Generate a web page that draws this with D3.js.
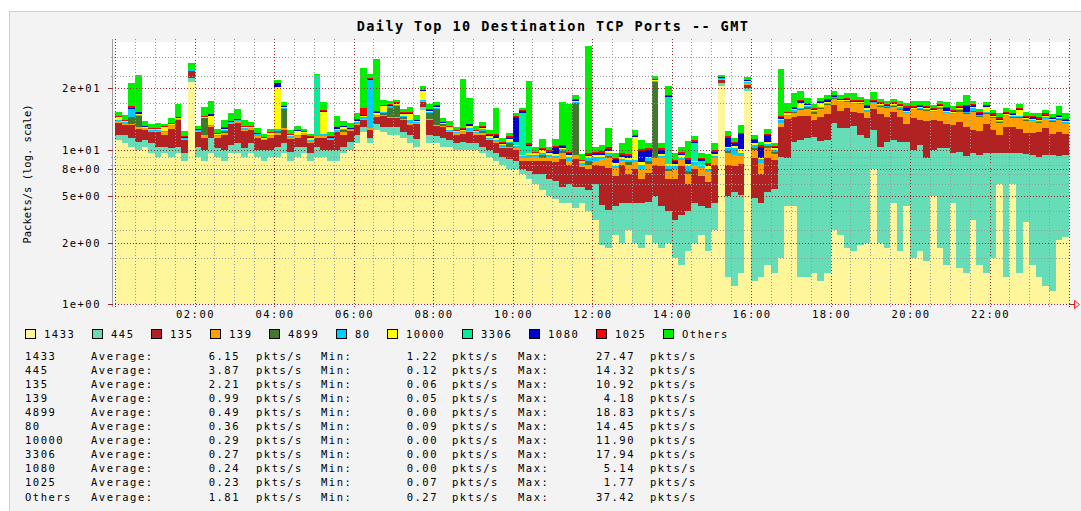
<!DOCTYPE html>
<html>
<head>
<meta charset="utf-8">
<title>Daily Top 10 Destination TCP Ports</title>
<script src="https://cdn.jsdelivr.net/npm/d3@7"></script>
<style>
  body { margin: 0; background: #fff; }
  text { font-family: "DejaVu Sans Mono", monospace; fill: #000; }
</style>
</head>
<body>
<script>
// ports in stacking order, bottom first
const ports = ["1433", "445", "135", "139", "4899", "80", "10000", "3306", "1080", "1025", "Others"];
const portColors = ["#fff59b", "#66ddb6", "#b22222", "#ffa000", "#3f7a2c", "#00ccff", "#ffff00", "#00f099", "#0000cc", "#ff0000", "#00ee00"];

// 10-minute bins, one line per hour (00:00 .. 23:50)
const s1433 = [
  11.5, 11, 10.5, 10, 10.5, 9.5,
  9, 9.5, 9, 9.5, 8.5, 27.5,
  9, 8.5, 9.5, 9, 8.5, 9.5,
  9.5, 9, 9.5, 9, 8.5, 9,
  9, 9.5, 8.5, 9, 9.5, 8.5,
  9, 9, 8.5, 8.5, 9.5, 10,
  11, 13, 11, 13.5, 13, 12.5,
  12.5, 12, 11, 10.5, 18, 11,
  11, 10.5, 10.5, 10, 10, 10,
  10, 9.5, 9, 8.5, 8, 7.5,
  7.5, 7, 6.5, 6, 5.5, 5,
  4.8, 4.5, 4.5, 4.2, 4.5, 4,
  3.5, 2.4, 2.3, 2.8, 2.5, 3,
  2.5, 2.3, 2.8, 2.5, 2.3, 2.5,
  2, 1.8, 2.2, 2.5, 2.8, 2.2,
  3, 26, 1.5, 1.3, 1.6, 24,
  1.4, 1.5, 1.8, 1.6, 2, 4.3,
  4.3, 1.5, 1.5, 1.6, 1.4, 1.6,
  3, 2.8, 2.3, 2.2, 2.4, 2.5,
  7.5, 2.5, 2.3, 4.5, 2.2, 4.3,
  2, 2.2, 1.9, 5, 2.3, 1.8,
  4.5, 1.7, 1.6, 3.5, 1.8, 1.6,
  2, 6, 1.5, 6, 1.6, 3.4,
  1.8, 1.5, 1.3, 1.22, 2.6, 2.7
];
const s445 = [
  1, 1.5, 1.5, 1.2, 1, 1.5,
  1.5, 1, 1.2, 1, 1, 1.8,
  1.5, 1.5, 2.5, 1.2, 1.5, 1.2,
  1.5, 1.2, 1.5, 1, 1.5, 1,
  1.5, 1.5, 1.2, 1.5, 1, 1,
  1.5, 1, 1.5, 1.5, 1, 1.2,
  1.5, 1, 1, 1.2, 1, 1.5,
  1.5, 1, 1.5, 1.2, 1, 1.5,
  1.2, 1.5, 1, 1, 1.2, 1,
  1, 1, 1, 1, 1, 1.2,
  1, 0.5, 0.8, 1, 1.5, 1.5,
  1.5, 1.2, 1.5, 1.5, 1.2, 1.5,
  2.5, 2, 1.8, 1.5, 2, 1.5,
  2, 2.2, 1.8, 2.5, 2, 1.5,
  1.5, 2, 1.8, 2, 1.5, 2,
  1.5, 1, 3.5, 4, 3.5, 1,
  3.5, 3, 3.5, 4, 7, 4.5,
  7, 10, 10.5, 10.5, 10, 10,
  12, 11, 11.5, 12, 10, 9.5,
  6, 8, 9, 7, 9, 7,
  8, 8.5, 7, 5, 8, 8.5,
  5, 8, 7.5, 6, 7.5, 8,
  7.5, 3.5, 8, 3.5, 8, 6,
  7.5, 7.5, 8, 8, 6.5, 6.5
];
const s135 = [
  2.5, 2, 2.5, 2.5, 2, 2,
  2.5, 2, 3.5, 5, 2, 3,
  2.5, 2, 2, 1.8, 2.5, 4,
  4, 3, 2.5, 2, 1.5, 2,
  2, 2.5, 2, 1.5, 2, 1.5,
  1.5, 2, 1.5, 3, 2, 2,
  2, 1.5, 1.5, 1.5, 2.5, 2,
  2, 2.5, 2, 3, 1.5, 3,
  2, 2, 1.5, 1.5, 1.5, 2,
  1.5, 2, 1.5, 1.5, 1.2, 1.5,
  1.5, 1, 1.2, 1.5, 1.5, 2,
  2, 3, 2, 3, 2, 2,
  2, 3.5, 3.5, 2.5, 3.5, 2.5,
  3, 2, 2.5, 3, 3.5, 2.5,
  3, 4, 2, 3, 2.5, 2,
  3.5, 1.5, 3, 2.5, 3, 1.5,
  4, 2.5, 3.5, 3, 5, 7,
  5, 5, 4.5, 3.5, 5, 5.5,
  4.5, 4, 5, 3.5, 5, 4,
  5, 6.5, 5, 6, 5, 3.5,
  6, 5, 6.5, 5.5, 5, 4.5,
  5, 5.5, 5, 4, 4, 5,
  4, 3, 4.5, 4.5, 4, 3.5,
  3.5, 4, 4.5, 3.5, 4, 3.5
];
const s139 = [
  0.4, 0.3, 0.3, 0.3, 0.3, 0.2,
  0.3, 0.5, 0.5, 0.3, 0.3, 0.3,
  0.3, 0.5, 0.3, 0.3, 0.4, 0.3,
  0.3, 0.3, 0.3, 0.3, 0.2, 0.3,
  0.3, 0.3, 0.3, 0.3, 0.3, 0.3,
  0.3, 0.3, 0.3, 0.3, 0.5, 0.3,
  0.3, 0.3, 0.3, 0.3, 0.3, 0.3,
  0.3, 0.3, 0.5, 0.3, 0.3, 0.3,
  0.3, 0.3, 0.3, 0.3, 0.3, 0.3,
  0.3, 0.3, 0.3, 0.3, 0.3, 0.3,
  0.3, 0.3, 0.3, 0.5, 0.3, 0.5,
  0.5, 0.8, 0.5, 0.5, 0.3, 0.5,
  0.5, 0.8, 1.2, 0.8, 0.5, 1,
  0.8, 1, 1, 0.8, 1, 0.8,
  1, 0.8, 1, 0.5, 0.8, 1,
  0.8, 0.3, 1.5, 1.5, 1, 0.5,
  1, 1.2, 1.5, 0.8, 1, 0.8,
  1, 1.5, 2, 1.5, 2, 2.5,
  2, 2.5, 1.5, 2, 2.5, 1.5,
  1.5, 2, 2.5, 1.5, 2, 2.5,
  2, 2.5, 2.5, 2, 3, 2.5,
  2.5, 2.5, 3, 4.2, 3, 2.5,
  2.5, 2.5, 2.5, 2, 2.5, 2.5,
  2.5, 2, 2, 2.5, 2.5, 2
];
const s4899 = [
  0, 0, 1.5, 2.5, 0, 0,
  0, 0, 0, 0, 0, 0,
  0, 3.5, 0, 0, 0.3, 0,
  0, 0, 0, 0, 0, 0,
  0.5, 4.5, 0, 0, 0, 0,
  0, 0, 0, 0, 0.5, 0,
  0, 0, 0, 0, 0.5, 2.5,
  3, 0.5, 0, 0, 0, 1.5,
  4, 0.3, 0, 0, 0, 0,
  0, 0.5, 0, 0, 0, 0.5,
  0, 0, 0, 0, 0.5, 0,
  0, 0.3, 0, 11, 0, 0.5,
  0, 0, 0.3, 0, 0, 0.3,
  0, 0, 0.3, 18.8, 0, 0.2,
  0, 0, 0.3, 0, 0, 0,
  0, 0, 0.3, 0, 0, 0,
  0.3, 0, 0.3, 0.3, 0, 0,
  0.3, 0.3, 0.5, 0.5, 0.3, 0.3,
  0.2, 0.1, 0.3, 0.2, 0.1, 0.2,
  0.1, 0.2, 0.1, 0.3, 0.2, 0.1,
  0.2, 0.1, 0.2, 0.1, 0.3, 0.1,
  0.1, 0.5, 0.2, 0.1, 0.2, 0.1,
  0.2, 0.1, 0.1, 0.3, 0.1, 0.2,
  0.1, 0.2, 0.1, 0.1, 0.2, 0.1
];
const s80 = [
  0.2, 0.3, 2, 0.3, 0.1, 0.2,
  0.1, 0.2, 0.2, 0.1, 0.1, 0.1,
  0.1, 0.1, 0.2, 0.1, 0.3, 0.1,
  0.2, 0.3, 0.1, 0.3, 0.1, 0.2,
  0.3, 0.3, 0.2, 0.1, 0.1, 0.2,
  0.1, 0.3, 0.1, 0.2, 0.1, 0.1,
  0.3, 0.5, 14.45, 0.3, 0.3, 0.3,
  0.3, 0.2, 0.5, 0.2, 0.3, 0.3,
  0.3, 0.2, 0.2, 0.2, 0.3, 0.5,
  0.2, 0.3, 0.2, 0.3, 0.2, 0.2,
  0.3, 0.3, 0.5, 0.3, 0.3, 0.3,
  0.3, 0.3, 0.5, 0.3, 0.2, 0.3,
  0.5, 0.3, 0.5, 0.3, 0.2, 0.3,
  0.3, 0.5, 0.4, 0.3, 0.3, 0.3,
  0.3, 0.3, 0.5, 0.3, 0.2, 0.3,
  0.3, 0.3, 0.5, 1, 0.5, 0.5,
  0.5, 0.5, 0.3, 0.3, 0.5, 0.3,
  0.5, 0.3, 0.3, 0.3, 0.3, 0.3,
  0.2, 0.3, 0.2, 0.3, 0.2, 0.5,
  0.2, 0.3, 0.2, 0.2, 0.5, 0.2,
  0.3, 0.5, 0.2, 0.2, 0.3, 0.2,
  0.2, 0.3, 0.2, 1, 0.2, 0.3,
  0.2, 0.3, 0.2, 0.2, 0.3, 0.2,
  0.3, 0.2, 0.5, 0.2, 0.2, 0.3
];
const s10000 = [
  0.6, 0.2, 0.2, 0.2, 0.2, 0.2,
  0.2, 0.8, 0.3, 0.2, 0.1, 0.1,
  0.1, 0.2, 2, 0.2, 0.2, 0.1,
  0.1, 0.2, 0.1, 0.1, 0.1, 0.3,
  11.9, 0.3, 0.2, 0.8, 0.1, 0.5,
  0.1, 5, 0.1, 0.2, 0.5, 0.1,
  0.3, 0.3, 0.2, 0.5, 1.5, 0.2,
  0.3, 0.5, 1.5, 0.2, 3, 0.3,
  0.2, 0.2, 0.5, 0.2, 0.2, 0.5,
  0.2, 0.3, 0.3, 0.3, 0.2, 0.5,
  0.2, 0.2, 0.3, 0.2, 0.3, 0.2,
  0.3, 0.2, 0.3, 0.3, 0.2, 0.3,
  0.2, 0.3, 0.2, 0.3, 0.3, 0.3,
  3.5, 0.3, 0.2, 0.3, 0.3, 0.3,
  0.3, 0.3, 0.3, 0.2, 0.2, 0.3,
  0.3, 0.3, 0.2, 0.3, 0.5, 0.3,
  0.3, 0.2, 0.3, 0.2, 0.3, 0.3,
  0.3, 1.5, 0.3, 0.3, 1, 0.3,
  0.2, 0.2, 0.3, 0.2, 0.2, 0.5,
  0.2, 0.3, 0.2, 0.2, 0.2, 0.2,
  0.2, 0.2, 0.3, 0.2, 0.2, 0.2,
  0.2, 0.2, 0.2, 0.2, 0.2, 1.5,
  0.2, 0.2, 0.2, 0.2, 1.5, 0.2,
  0.2, 0.2, 0.2, 0.2, 0.2, 0.2
];
const s3306 = [
  0, 0, 0, 0, 0, 0,
  0, 0, 0, 0, 0, 0,
  0, 0, 0, 0, 0, 0,
  0, 0, 0, 0, 0, 0,
  0, 0, 0, 0, 0, 0,
  17.9, 0, 0, 0, 0, 0,
  0, 0, 0, 0, 0, 0,
  0, 0, 0, 0, 0, 0,
  0, 0, 0, 0, 0, 0,
  0, 0, 0, 0, 0, 0,
  0.5, 8, 1, 0, 0, 0,
  0, 0, 0, 0, 0, 0,
  0, 0, 0, 0, 0, 0,
  0, 0, 0, 0, 0, 14,
  0, 0, 0, 2.5, 0.5, 0,
  0, 0, 0, 0, 0, 0,
  0, 0, 0, 0, 0, 0,
  0, 0, 0, 0, 0, 0,
  0, 0, 0, 0, 0, 0,
  0, 0, 0, 0, 0, 0,
  0, 0, 0, 0, 0, 0,
  0, 0, 0, 0, 0, 0,
  0, 0, 0, 0, 0, 0,
  0, 0, 0, 0, 0, 0
];
const s1080 = [
  0.2, 0.1, 0.2, 0.5, 0.1, 0.1,
  0.1, 0.1, 0.1, 0.1, 0.1, 0.1,
  0.1, 0.1, 0.5, 0.1, 0.1, 0.1,
  0.2, 0.1, 0.1, 0.1, 0.1, 0.1,
  1.5, 0.3, 0.1, 0.2, 0.1, 0.1,
  0.1, 0.2, 0.1, 0.3, 0.1, 0.1,
  0.2, 0.3, 0.3, 0.3, 0.2, 0.2,
  0.2, 0.3, 0.2, 0.1, 0.2, 0.2,
  0.2, 0.1, 0.1, 0.1, 0.2, 0.3,
  0.1, 0.2, 0.1, 0.5, 0.2, 0.3,
  5.1, 0.5, 0.2, 0.1, 0.2, 0.2,
  1, 0.3, 0.2, 0.2, 0.1, 0.2,
  0.3, 0.2, 0.3, 0.5, 0.3, 0.2,
  0.2, 1.5, 1, 0.2, 0.5, 0.3,
  0.3, 0.2, 0.5, 0.3, 0.2, 0.2,
  0.3, 0.2, 1.5, 0.5, 2.5, 0.5,
  0.5, 1.5, 1.2, 0.2, 0.5, 0.2,
  0.3, 0.5, 0.3, 0.3, 0.3, 0.5,
  0.3, 0.3, 0.3, 0.3, 0.3, 0.5,
  0.3, 0.3, 0.3, 0.3, 0.3, 1,
  0.3, 0.3, 0.3, 0.3, 0.3, 0.8,
  0.3, 0.3, 1.5, 0.5, 0.3, 0.3,
  0.3, 0.3, 0.3, 0.3, 0.5, 0.3,
  0.3, 0.3, 0.3, 0.3, 0.3, 0.3
];
const s1025 = [
  0.2, 0.1, 0.4, 0.1, 0.1, 0.1,
  0.1, 0.1, 0.2, 0.1, 0.1, 0.2,
  0.1, 0.1, 0.1, 0.1, 0.2, 0.1,
  0.1, 0.1, 0.1, 0.1, 0.1, 0.1,
  0.3, 0.1, 0.1, 0.1, 0.1, 0.1,
  0.1, 0.2, 0.1, 0.1, 0.1, 0.1,
  0.2, 1.77, 0.3, 0.2, 0.2, 0.2,
  0.2, 0.2, 0.3, 0.2, 0.3, 0.2,
  0.2, 0.1, 0.2, 0.1, 0.2, 0.2,
  0.1, 0.2, 0.2, 0.3, 0.1, 0.2,
  0.2, 0.3, 0.2, 0.1, 0.2, 0.2,
  0.2, 0.2, 0.2, 0.3, 0.1, 0.2,
  0.2, 0.3, 0.3, 0.2, 0.2, 0.3,
  0.2, 0.3, 0.2, 0.2, 0.3, 0.2,
  0.2, 0.3, 0.3, 0.2, 0.2, 0.2,
  0.3, 0.2, 0.3, 0.2, 0.3, 0.2,
  0.2, 0.3, 0.2, 0.2, 0.3, 0.2,
  0.3, 0.3, 0.3, 0.3, 0.3, 0.2,
  0.3, 0.3, 0.3, 0.3, 0.3, 0.3,
  0.3, 0.3, 0.3, 0.3, 0.3, 0.3,
  0.3, 0.3, 0.3, 0.3, 0.3, 0.3,
  0.3, 0.3, 0.3, 0.3, 0.3, 0.3,
  0.3, 0.3, 0.3, 0.3, 0.3, 0.3,
  0.3, 0.3, 0.3, 0.3, 0.3, 0.3
];
const sOthers = [
  1, 1.2, 8, 13, 1, 0.8,
  1.2, 0.6, 1, 3.5, 1, 3.5,
  0.5, 2.5, 3.5, 0.8, 1.5, 2,
  2.5, 1.5, 1, 1, 0.5, 0.6,
  1, 1, 0.8, 0.8, 0.5, 0.5,
  0.5, 2.5, 0.8, 2.5, 1, 1,
  1.5, 15, 2, 21, 1.5, 1,
  0.8, 0.8, 1.5, 1, 1.5, 1.5,
  1, 0.8, 1, 0.6, 15, 7,
  0.8, 0.8, 0.8, 6, 0.8, 0.6,
  0.8, 0.5, 17, 0.8, 1.5, 0.6,
  1.2, 9.5, 10, 1.5, 0.8, 37.4,
  0.8, 1, 3.5, 0.6, 1.5, 2.5,
  1, 1.5, 0.8, 1.5, 0.8, 3.5,
  1, 0.8, 2.5, 0.8, 0.6, 1.2,
  1, 0.6, 1, 0.6, 1.5, 1.2,
  0.8, 0.6, 1, 0.5, 17, 2.5,
  4.5, 3, 1.5, 1, 1, 1.5,
  1.5, 1, 1.5, 2.5, 1, 2,
  2.5, 1, 0.8, 1, 1, 1,
  1.5, 1, 1.5, 0.8, 1, 1.5,
  1, 1, 3, 1, 0.8, 0.8,
  0.8, 1, 1, 0.8, 1, 1,
  0.8, 1, 0.8, 0.8, 2.5, 1.5
];
const seriesValues = [s1433, s445, s135, s139, s4899, s80, s10000, s3306, s1080, s1025, sOthers];

// summary table
const avgVals = ["6.15", "3.87", "2.21", "0.99", "0.49", "0.36", "0.29", "0.27", "0.24", "0.23", "1.81"];
const minVals = ["1.22", "0.12", "0.06", "0.05", "0.00", "0.09", "0.00", "0.00", "0.00", "0.07", "0.27"];
const maxVals = ["27.47", "14.32", "10.92", "4.18", "18.83", "14.45", "11.90", "17.94", "5.14", "1.77", "37.42"];

// y axis: rrdtool style log labels
const yTickVals = [1, 2.5, 5, 7.5, 10, 25];
const yTickLabels = ["1e+00", "2e+00", "5e+00", "8e+00", "1e+01", "2e+01"];
const yMinorVals = [2, 3, 4, 6, 7, 8, 9, 20, 30, 40];
const xLabelHours = [2, 4, 6, 8, 10, 12, 14, 16, 18, 20, 22];
const binMinutes = 10;

const W = 1081, H = 511;
const plotL = 115, plotR = 1069, plotT = 42, plotB = 304;
const majorColor = "#9c2424", minorColor = "#9a9a9a";

const svg = d3.select("body").append("svg")
  .attr("width", W).attr("height", H);

svg.append("rect").attr("x", 9.5).attr("y", 11.5)
  .attr("width", W).attr("height", H)
  .attr("fill", "#f3f3f3").attr("stroke", "#cfcfcf");

svg.append("text")
  .attr("x", 553).attr("y", 30.5)
  .attr("text-anchor", "middle")
  .style("font-size", "13.5px").style("font-weight", "bold").style("letter-spacing", "1.45px")
  .text("Daily Top 10 Destination TCP Ports -- GMT");

const day0 = new Date(2000, 0, 1, 0, 0);
const day1 = new Date(2000, 0, 2, 0, 0);
const x = d3.scaleTime().domain([day0, day1]).range([plotL, plotR]);
const y = d3.scaleLog().domain([1, 50]).range([plotB, plotT]).clamp(true);

svg.append("rect").attr("x", plotL).attr("y", plotT)
  .attr("width", plotR - plotL).attr("height", plotB - plotT).attr("fill", "#fff");

// stacked bars
const rows = s1433.map((_, i) => {
  const r = { t: d3.timeMinute.offset(day0, i * binMinutes) };
  ports.forEach((p, k) => { r[p] = seriesValues[k][i]; });
  return r;
});
const stacked = d3.stack().keys(ports)(rows);

const gBars = svg.append("g").attr("shape-rendering", "crispEdges");
stacked.forEach((layer, k) => {
  gBars.append("g").attr("fill", portColors[k])
    .selectAll("rect").data(layer).join("rect")
    .attr("x", d => Math.round(x(d.data.t)))
    .attr("width", d => Math.round(x(d3.timeMinute.offset(d.data.t, binMinutes))) - Math.round(x(d.data.t)))
    .attr("y", d => Math.round(y(Math.max(d[1], 1))))
    .attr("height", d => Math.max(0, Math.round(y(Math.max(d[0], 1))) - Math.round(y(Math.max(d[1], 1)))));
});

// grid on top of the bars
const grid = svg.append("g").attr("fill", "none").attr("shape-rendering", "crispEdges");
const halfHours = d3.timeMinute.every(30).range(day0, d3.timeMinute.offset(day1, 1));
halfHours.forEach(t => {
  const major = t.getMinutes() === 0 && t.getHours() % 2 === 0;
  grid.append("line")
    .attr("x1", Math.round(x(t)) + 0.5).attr("x2", Math.round(x(t)) + 0.5)
    .attr("y1", plotT - 3).attr("y2", plotB + 3)
    .attr("stroke", major ? majorColor : minorColor)
    .attr("stroke-dasharray", "1,2");
});
yMinorVals.forEach(v => {
  grid.append("line")
    .attr("x1", plotL - 4).attr("x2", plotR + 2)
    .attr("y1", Math.round(y(v)) + 0.5).attr("y2", Math.round(y(v)) + 0.5)
    .attr("stroke", minorColor).attr("stroke-dasharray", "1,2");
});
yTickVals.forEach(v => {
  grid.append("line")
    .attr("x1", plotL - 6).attr("x2", plotR + 2)
    .attr("y1", Math.round(y(v)) + 0.5).attr("y2", Math.round(y(v)) + 0.5)
    .attr("stroke", majorColor).attr("stroke-dasharray", "1,2");
});

// axes
svg.append("line").attr("x1", 112.5).attr("x2", 112.5).attr("y1", plotT - 3).attr("y2", plotB + 3)
  .attr("stroke", "#a0a0a0");
yTickVals.forEach(v => {
  svg.append("line").attr("x1", 108).attr("x2", 113)
    .attr("y1", Math.round(y(v)) + 0.5).attr("y2", Math.round(y(v)) + 0.5)
    .attr("stroke", majorColor);
});
svg.append("line").attr("x1", plotR).attr("x2", plotR + 5).attr("y1", plotB + 0.5).attr("y2", plotB + 0.5)
  .attr("stroke", majorColor);
svg.append("path")
  .attr("d", `M${plotR + 5.5},${plotB - 3.5} L${plotR + 10.5},${plotB + 0.5} L${plotR + 5.5},${plotB + 4.5} Z`)
  .attr("fill", "none").attr("stroke", "#ff2020");

const small = sel => sel.style("font-size", "10.5px").style("letter-spacing", "1.5px");

svg.append("g").selectAll("text").data(yTickVals).join("text")
  .attr("x", 101).attr("y", v => y(v) + 4)
  .attr("text-anchor", "end")
  .call(small)
  .text((v, i) => yTickLabels[i]);

svg.append("g").selectAll("text").data(xLabelHours).join("text")
  .attr("x", h => x(d3.timeHour.offset(day0, h)) + 1).attr("y", 318)
  .attr("text-anchor", "middle")
  .call(small)
  .text(h => d3.timeFormat("%H:%M")(d3.timeHour.offset(day0, h)));

svg.append("text")
  .attr("transform", "translate(31,174) rotate(-90)")
  .attr("text-anchor", "middle")
  .style("font-size", "10.5px")
  .text("Packets/s (log. scale)");

// legend
let lx = 25;
ports.forEach((p, k) => {
  svg.append("rect").attr("x", lx + 0.5).attr("y", 329.5).attr("width", 10).attr("height", 9)
    .attr("fill", portColors[k]).attr("stroke", "#000");
  svg.append("text").attr("x", lx + 19).attr("y", 338).call(small).text(p);
  lx += 19 + p.length * 8 + 16;
});

// summary rows
ports.forEach((p, k) => {
  const ty = 359.5 + k * 14.1;
  const row = svg.append("g").call(small);
  row.append("text").attr("x", 25).attr("y", ty).text(p);
  row.append("text").attr("x", 91).attr("y", ty).text("Average:");
  row.append("text").attr("x", 240).attr("y", ty).attr("text-anchor", "end").text(avgVals[k]);
  row.append("text").attr("x", 256).attr("y", ty).text("pkts/s");
  row.append("text").attr("x", 321).attr("y", ty).text("Min:");
  row.append("text").attr("x", 438).attr("y", ty).attr("text-anchor", "end").text(minVals[k]);
  row.append("text").attr("x", 452).attr("y", ty).text("pkts/s");
  row.append("text").attr("x", 518).attr("y", ty).text("Max:");
  row.append("text").attr("x", 635).attr("y", ty).attr("text-anchor", "end").text(maxVals[k]);
  row.append("text").attr("x", 650).attr("y", ty).text("pkts/s");
});
</script>
</body>
</html>
